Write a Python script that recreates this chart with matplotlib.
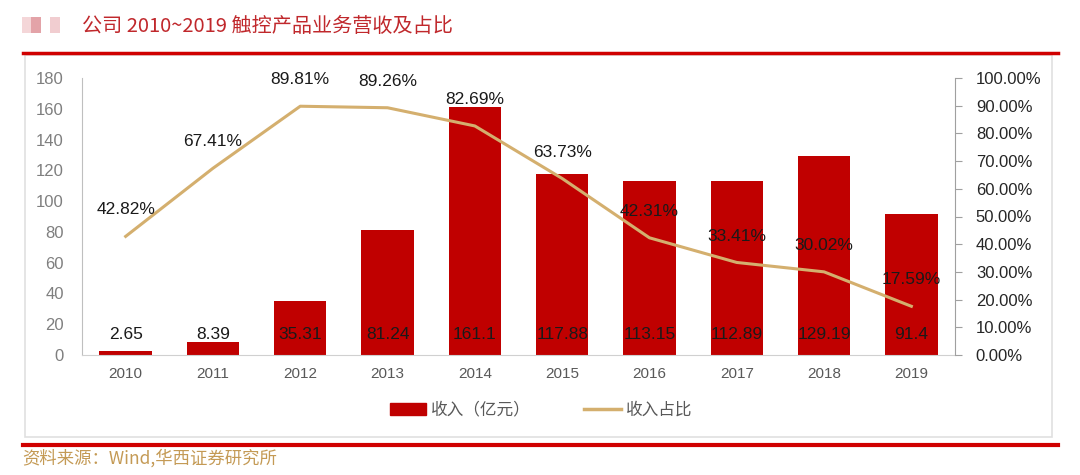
import matplotlib.pyplot as plt
from matplotlib.patches import Rectangle
from matplotlib.lines import Line2D

plt.rcParams['font.family'] = ['Liberation Sans', 'Noto Sans CJK SC']

years = ['2010', '2011', '2012', '2013', '2014', '2015', '2016', '2017', '2018', '2019']
revenue = [2.65, 8.39, 35.31, 81.24, 161.1, 117.88, 113.15, 112.89, 129.19, 91.4]
share = [42.82, 67.41, 89.81, 89.26, 82.69, 63.73, 42.31, 33.41, 30.02, 17.59]

bar_color = '#C00000'
line_color = '#D4AF6E'

fig = plt.figure(figsize=(10.8, 4.75), dpi=100)

# frame and red rules
fig.add_artist(Rectangle((25 / 1080, 1 - 437 / 475), 1027 / 1080, 382 / 475, transform=fig.transFigure,
                         fill=False, edgecolor='#E0E0E0', linewidth=1.2))
fig.add_artist(Line2D([23 / 1080, 1058 / 1080], [1 - 53 / 475] * 2, color='#D00000', linewidth=2.5))
fig.add_artist(Line2D([23 / 1080, 1058 / 1080], [1 - 445 / 475] * 2, color='#D00000', linewidth=3))

# blurred icon
for x0, c in [(22, '#F4D6D8'), (31, '#E3A3A8'), (50, '#F1CDD0')]:
    fig.add_artist(Rectangle((x0 / 1080, 1 - 33 / 475), 10 / 1080, 16 / 475, transform=fig.transFigure,
                             color=c, linewidth=0))

fig.text(82 / 1080, 1 - 26 / 475, '公司 2010~2019 触控产品业务营收及占比', color='#C0282C',
         fontsize=14.5, va='center', ha='left', family=['Noto Sans CJK SC'])
fig.text(22 / 1080, 1 - 458 / 475, '资料来源：Wind,华西证券研究所', color='#C49A55',
         fontsize=12.5, va='center', ha='left', family=['Noto Sans CJK SC'])

ax = fig.add_axes([82 / 1080, 1 - 355 / 475, 873 / 1080, 277 / 475])
x = range(len(years))
ax.bar(x, revenue, width=0.6, color=bar_color, zorder=2)
ax.set_xlim(-0.5, len(years) - 0.5)
ax.set_ylim(0, 180)
ax.set_yticks(range(0, 181, 20))
ax.set_xticks(list(x))
ax.set_xticklabels(years)
ax.tick_params(axis='y', length=0, labelcolor='#7F7F7F', labelsize=12, pad=13)
ax.tick_params(axis='x', length=0, labelcolor='#595959', labelsize=11, pad=9)
for s in ['top', 'right']:
    ax.spines[s].set_visible(False)
ax.spines['left'].set_color('#BFBFBF')
ax.spines['bottom'].set_color('#D0D0D0')

for xi, v in zip(x, revenue):
    ax.text(xi, 13, f'{v:g}', ha='center', va='center', fontsize=12.5, color='#1A1A1A', zorder=5)

ax2 = ax.twinx()
ax2.plot(list(x), share, color=line_color, linewidth=2.2, zorder=3)
ax2.set_ylim(0, 100)
ax2.set_yticks(range(0, 101, 10))
ax2.set_yticklabels([f'{t:.2f}%' for t in range(0, 101, 10)])
ax2.tick_params(axis='y', length=5, color='#A0A0A0', labelcolor='#262626', labelsize=12, pad=10)
for s in ['top', 'left', 'bottom']:
    ax2.spines[s].set_visible(False)
ax2.spines['right'].set_color('#A0A0A0')

for xi, v in zip(x, share):
    ax2.annotate(f'{v:.2f}%', (xi, v), xytext=(0, 19), textcoords='offset points',
                 ha='center', va='center', fontsize=12.5, color='#1A1A1A', zorder=6)

handles = [Rectangle((0, 0), 1, 1, color=bar_color), Line2D([0], [0], color=line_color, linewidth=2.5)]
leg = fig.legend(handles, ['收入（亿元）', '收入占比'], loc='center', bbox_to_anchor=(541 / 1080, 1 - 410 / 475),
                 ncol=2, frameon=False, labelcolor='#595959', handlelength=2.2,
                 handleheight=0.7, columnspacing=3.2, handletextpad=0.3,
                 prop={'family': ['Noto Sans CJK SC'], 'size': 12})

fig.savefig('out.png', dpi=100)
